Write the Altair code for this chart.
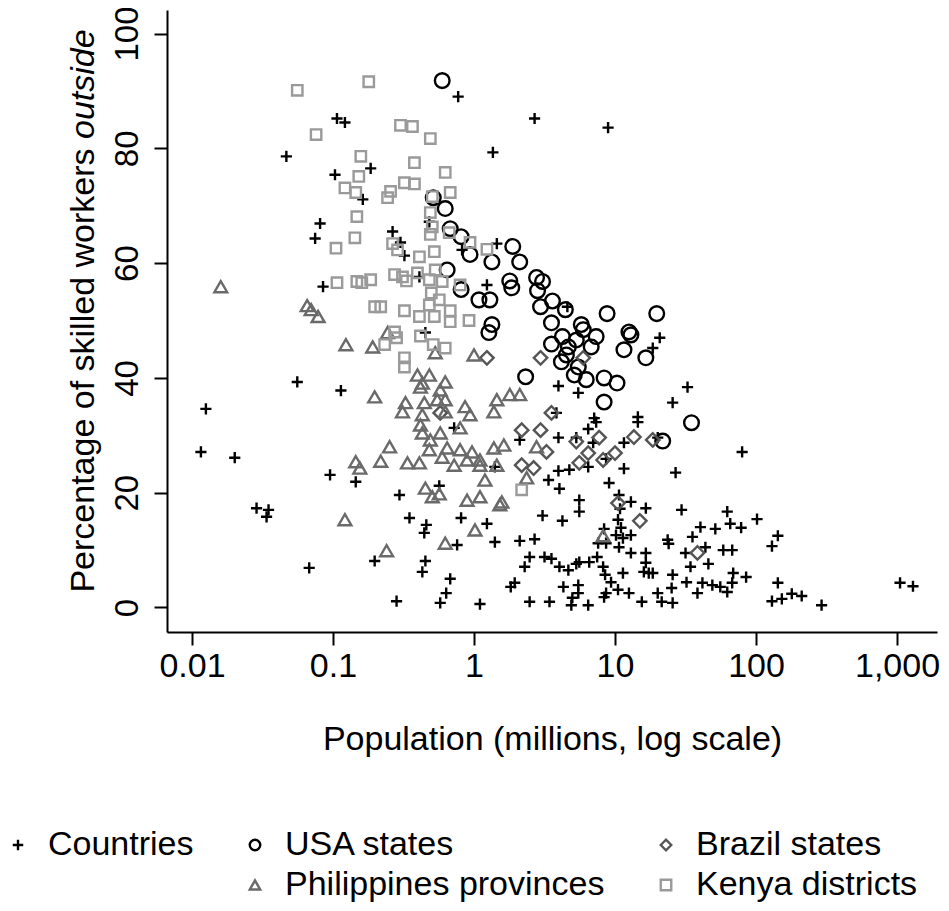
import altair as alt
import pandas as pd

FONT = "Liberation Sans"

# ---------------- data (population in millions, % skilled workers outside) ----------------
COUNTRIES_POP = [
    0.0467, 0.772, 0.1067, 0.1215, 1.361, 0.185, 0.1033, 0.1627, 2.689, 8.928,
    0.081, 0.0747, 0.2646, 0.301, 0.321, 1.452, 0.823, 0.482, 0.410, 0.0850,
    1.235, 0.452, 0.1138, 0.0558, 0.01255, 4.592, 20.75, 18.52, 3.969, 5.488,
    32.67, 25.62, 7.115, 14.52, 3.842, 0.01157, 0.0201, 0.0287, 0.0349, 0.0338,
    0.0678, 0.723, 1.406, 0.0953, 0.145, 0.567, 0.296, 0.3486, 0.459, 0.444,
    0.810, 1.235, 0.759, 1.406, 0.1975, 0.452, 0.430, 0.678, 0.635, 0.576,
    0.2823, 1.102, 1.822, 1.944, 7.349, 6.454, 14.52, 3.969, 5.313, 6.998,
    11.57, 2.109, 20.08, 6.454, 3.969, 4.743, 8.644, 11.57, 26.89, 3.375,
    4.033, 9.073, 5.578, 5.578, 3.062, 4.235, 10.67, 12.96, 16.54, 29.64,
    10.85, 10.50, 11.02, 8.367, 12.96, 10.16, 11.38, 7.592, 8.644, 10.67,
    2.109, 2.689, 40.33, 51.43, 35.42, 23.62, 24.01, 43.74, 58.56, 12.96,
    16.54, 31.62, 2.48, 2.287, 3.162, 3.542, 4.033, 4.667, 5.313, 5.578,
    6.561, 7.468, 8.233, 8.504, 11.38, 16.54, 16.01, 18.52, 17.35, 25.62,
    45.92, 34.29, 4.303, 5.488, 5.488, 4.981, 4.899, 6.454, 3.429, 2.48,
    8.644, 8.367, 9.372, 10.50, 12.55, 15.49, 20.08, 21.43, 25.62, 25.2,
    32.14, 38.42, 41.67, 48.99, 55.78, 79.68, 62.5, 65.6, 78.4, 101.6,
    142.8, 129.7, 67.76, 68.87, 85.04, 67.76, 62.5, 142.8, 129.7, 152.4,
    179.3, 210.8, 291.6, 1050, 1297,
]
COUNTRIES_PCT = [
    78.6, 89.0, 85.2, 84.5, 79.3, 76.5, 75.4, 71.1, 85.2, 83.6,
    66.9, 64.3, 65.5, 63.6, 61.3, 63.4, 62.3, 67.2, 57.6, 55.9,
    56.2, 47.9, 37.8, 39.3, 34.6, 52.4, 47.0, 45.2, 38.6, 37.4,
    38.4, 35.7, 33.0, 33.2, 33.9, 27.1, 26.1, 17.3, 17.0, 15.8,
    6.9, 31.3, 24.5, 23.1, 21.9, 21.2, 19.6, 15.6, 14.4, 13.0,
    15.6, 14.6, 10.9, 11.4, 8.1, 8.1, 6.2, 5.0, 2.5, 0.8,
    1.1, 0.6, 3.6, 4.3, 32.3, 31.1, 32.3, 29.6, 29.6, 28.7,
    28.7, 29.2, 29.6, 24.5, 23.8, 24.0, 25.9, 24.2, 23.5, 22.2,
    20.7, 21.7, 18.7, 16.7, 16.0, 15.1, 19.6, 18.4, 17.3, 17.0,
    17.2, 15.3, 13.9, 13.7, 12.6, 12.6, 12.1, 11.2, 11.2, 10.5,
    11.6, 11.9, 14.0, 13.7, 12.3, 11.8, 11.1, 10.5, 10.0, 9.5,
    9.5, 9.5, 8.8, 7.1, 8.8, 8.5, 7.1, 6.5, 7.6, 7.9,
    7.9, 8.8, 7.1, 5.7, 6.0, 7.8, 6.2, 6.0, 6.0, 5.7,
    7.6, 7.1, 3.6, 3.9, 2.5, 1.7, 0.4, 0.4, 1.0, 1.0,
    2.5, 1.8, 4.4, 3.1, 2.5, 1.0, 2.5, 1.0, 0.8, 3.4,
    4.4, 2.5, 4.3, 3.9, 3.6, 27.1, 16.7, 14.6, 13.9, 15.4,
    12.5, 10.7, 10.0, 6.0, 5.3, 4.3, 2.7, 4.3, 1.1, 1.5,
    2.4, 2.0, 0.4, 4.3, 3.7,
]

USA_POP = [
    0.595, 0.514, 0.625, 0.678, 0.810, 0.937, 1.339, 0.645, 0.810, 1.084,
    1.296, 1.793, 1.852, 1.339, 1.275, 1.882, 2.109, 2.777, 3.062, 2.822,
    3.600, 2.964, 4.445, 3.542, 8.786, 19.76, 5.763, 5.952, 4.235, 7.349,
    12.55, 12.96, 3.542, 4.667, 5.313, 6.776, 4.519, 4.167, 5.488, 11.57,
    16.54, 2.323, 5.143, 6.249, 8.367, 10.33, 8.367, 34.85, 21.78,
]
USA_PCT = [
    91.8, 71.4, 69.5, 66.0, 64.6, 61.5, 60.2, 58.8, 55.4, 53.6,
    53.6, 56.9, 55.7, 49.3, 47.9, 62.9, 60.2, 57.5, 56.8, 55.2,
    53.4, 52.4, 51.9, 49.6, 51.2, 51.2, 49.3, 48.4, 47.2, 47.2,
    48.0, 47.5, 45.9, 45.4, 46.6, 45.4, 44.0, 42.8, 41.9, 44.9,
    43.5, 40.2, 40.5, 39.7, 40.0, 39.1, 35.8, 32.2, 29.0,
]

BRAZIL_POP = [
    1.235, 0.576, 2.178, 2.964, 3.266, 2.964, 5.952, 3.542, 5.313, 7.715,
    6.454, 5.578, 8.233, 10.0, 13.61, 18.52, 2.178, 2.646, 10.50, 15.0,
    38.42,
]
BRAZIL_PCT = [
    43.5, 33.9, 30.9, 30.9, 27.1, 43.5, 43.5, 33.9, 28.9, 29.6,
    26.9, 25.2, 25.7, 26.9, 29.7, 29.2, 24.8, 24.3, 18.2, 15.1,
    9.5,
]

PHIL_POP = [
    0.0160, 0.0656, 0.0700, 0.0784, 0.1235, 0.1913, 0.2439, 0.531, 1.0, 0.397,
    0.482, 0.430, 0.625, 0.417, 0.576, 0.1975, 0.3266, 0.311, 0.4444, 0.549,
    0.625, 0.864, 1.452, 1.793, 1.383, 0.937, 0.430, 0.625, 0.417, 0.430,
    0.576, 0.797, 0.490, 0.252, 0.145, 0.155, 0.218, 0.3374, 0.410, 0.482,
    0.645, 0.797, 0.968, 0.595, 0.893, 1.102, 1.383, 1.627, 0.723, 1.102,
    1.452, 1.195, 0.452, 0.506, 0.567, 0.893, 1.102, 1.575, 1.524, 0.1215,
    1.016, 0.625, 0.240, 2.777, 2.362, 8.233, 2.109,
]
PHIL_PCT = [
    55.9, 52.6, 51.9, 50.7, 45.8, 45.4, 47.9, 44.4, 44.0, 40.5,
    40.5, 39.1, 39.3, 38.4, 37.9, 36.7, 35.7, 34.1, 35.7, 36.2,
    36.2, 35.0, 36.2, 37.1, 34.1, 33.6, 33.6, 34.1, 31.8, 30.4,
    30.4, 31.3, 29.2, 28.0, 25.4, 24.3, 25.5, 25.2, 25.2, 27.5,
    27.8, 27.5, 27.1, 26.2, 25.7, 25.7, 27.8, 28.3, 24.8, 24.8,
    24.8, 22.2, 20.8, 19.3, 19.8, 18.7, 19.3, 18.4, 17.9, 15.3,
    13.5, 11.2, 9.9, 28.0, 22.6, 12.5, 37.1,
]

KENYA_POP = [
    0.0558, 0.1793, 0.0759, 0.301, 0.366, 0.490, 0.1575, 0.378, 0.625, 0.1524,
    0.1215, 0.145, 0.256, 0.2439, 0.321, 0.378, 0.506, 0.678, 0.1476, 0.490,
    0.1429, 0.105, 0.2646, 0.287, 0.410, 0.523, 0.490, 0.506, 0.667, 0.937,
    1.235, 0.1067, 0.1476, 0.160, 0.185, 0.2733, 0.311, 0.332, 0.397, 0.482,
    0.531, 0.595, 0.797, 0.498, 0.567, 0.482, 0.1975, 0.218, 0.321, 0.410,
    0.523, 0.678, 0.678, 0.922, 0.2733, 0.2823, 0.2324, 0.417, 0.514, 0.625,
    0.321, 0.321, 2.178,
]
KENYA_PCT = [
    90.1, 91.6, 82.4, 84.0, 83.8, 81.7, 78.6, 77.5, 75.8, 75.1,
    73.1, 72.3, 72.5, 71.4, 74.0, 73.8, 71.6, 72.3, 68.1, 68.8,
    64.4, 62.6, 63.4, 62.3, 61.1, 62.0, 65.0, 66.3, 65.3, 63.6,
    62.4, 56.6, 56.8, 56.6, 57.1, 58.0, 57.6, 56.9, 58.3, 57.1,
    58.8, 56.8, 56.2, 54.8, 53.6, 52.7, 52.4, 52.4, 51.7, 50.7,
    50.7, 51.7, 49.8, 50.0, 48.0, 47.0, 45.8, 47.3, 45.8, 45.2,
    43.5, 41.9, 20.5,
]

SERIES = ["Countries", "USA states", "Brazil states", "Philippines provinces", "Kenya districts"]
# legend grid: 3 columns, row-major, with an empty slot before "Philippines provinces"
LEGEND_DOMAIN = ["Countries", "USA states", "Brazil states", " ", "Philippines provinces", "Kenya districts"]

X_TICKS = [0.01, 0.1, 1, 10, 100, 1000]
X_TICK_LABELS = ["0.01", "0.1", "1", "10", "100", "1,000"]
Y_TICKS = [0, 20, 40, 60, 80, 100]
X_TITLE = "Population (millions, log scale)"
Y_TITLE_MAIN = "Percentage of skilled workers"
Y_TITLE_ITALIC = "outside"

# ---------------- styles ----------------
PLUS = "M-1,0H1M0,-1V1"
COLORS = ["#000000", "#000000", "#555555", "rgba(0,0,0,0)", "#6a6a6a", "#9a9a9a"]
SHAPES = [PLUS, "circle", "diamond", "square", "triangle-up", "square"]
MARK_SIZE = {"Countries": 125, "USA states": 215, "Brazil states": 180,
             "Philippines provinces": 165, "Kenya districts": 108}
STROKE = 2.4

X_MIN, X_MAX = 0.00665, 1920
Y_MIN, Y_MAX = -4.27, 104.1
W, H = 770, 622
FS = 34
FS_YLAB = 33

series_data = {
    "Countries": (COUNTRIES_POP, COUNTRIES_PCT),
    "USA states": (USA_POP, USA_PCT),
    "Brazil states": (BRAZIL_POP, BRAZIL_PCT),
    "Philippines provinces": (PHIL_POP, PHIL_PCT),
    "Kenya districts": (KENYA_POP, KENYA_PCT),
}

x_label_expr = " : ".join(
    f"datum.value == {v} ? '{l}'" for v, l in zip(X_TICKS, X_TICK_LABELS)
) + " : ''"

legend = alt.Legend(
    title=None, orient="none", direction="horizontal", legendX=-166, legendY=818,
    columns=3, columnPadding=44, rowPadding=6, labelFontSize=FS, labelFont=FONT,
    labelColor="black", labelLimit=600, labelOffset=13, symbolSize=110,
    symbolStrokeWidth=STROKE, padding=0,
)

x_enc = alt.X(
    "pop:Q",
    scale=alt.Scale(type="log", domain=[X_MIN, X_MAX], nice=False),
    axis=alt.Axis(values=X_TICKS, labelExpr=x_label_expr, title=X_TITLE,
                  labelPadding=4, titlePadding=39, labelOverlap=False, labelFlush=False),
)
y_enc = alt.Y(
    "pct:Q",
    scale=alt.Scale(domain=[Y_MIN, Y_MAX], nice=False, zero=False),
    axis=alt.Axis(values=Y_TICKS, title=None, labelAngle=270, labelAlign="center",
                  labelBaseline="alphabetic", labelPadding=17, labelOverlap=False,
                  labelFlush=False, labelFontSize=FS_YLAB),
)
color_enc = alt.Color("series:N", scale=alt.Scale(domain=LEGEND_DOMAIN, range=COLORS), legend=legend)
shape_enc = alt.Shape("series:N", scale=alt.Scale(domain=LEGEND_DOMAIN, range=SHAPES), legend=legend)

layers = []
for name in SERIES:
    pops, pcts = series_data[name]
    assert len(pops) == len(pcts), name
    d = pd.DataFrame({"series": name, "pop": pops, "pct": pcts})
    layers.append(
        alt.Chart(d).mark_point(filled=False, strokeWidth=STROKE, opacity=1,
                                size=MARK_SIZE[name]).encode(
            x=x_enc, y=y_enc, color=color_enc, shape=shape_enc)
    )

YT_X = -73      # baseline of rotated y title (px from plot left)
YT_JOIN = 129   # px from plot top where the italic word begins
SPACE = 9.5

title_main = alt.Chart(pd.DataFrame({"t": [Y_TITLE_MAIN]})).mark_text(
    angle=270, align="right", baseline="alphabetic", fontSize=FS, font=FONT, color="black"
).encode(text="t:N", x=alt.value(YT_X), y=alt.value(YT_JOIN + SPACE))

title_italic = alt.Chart(pd.DataFrame({"t": [Y_TITLE_ITALIC]})).mark_text(
    angle=270, align="left", baseline="alphabetic", fontSize=FS, font=FONT,
    fontStyle="italic", color="black"
).encode(text="t:N", x=alt.value(YT_X), y=alt.value(YT_JOIN))

chart = alt.layer(*layers, title_main, title_italic).properties(
    width=W, height=H,
    autosize=alt.AutoSizeParams(type="none"),
    padding={"left": 159, "top": 2, "right": 4, "bottom": 270},
    background="white",
).configure_view(stroke=None).configure_axis(
    domainColor="black", domainWidth=2, tickColor="black", tickWidth=2, tickSize=13,
    labelFontSize=FS, labelFont=FONT, labelColor="black",
    titleFont=FONT, titleFontSize=FS, titleFontWeight="normal", titleColor="black",
    grid=False,
)

chart.save("out.html", embed_options={"renderer": "svg", "actions": False})
